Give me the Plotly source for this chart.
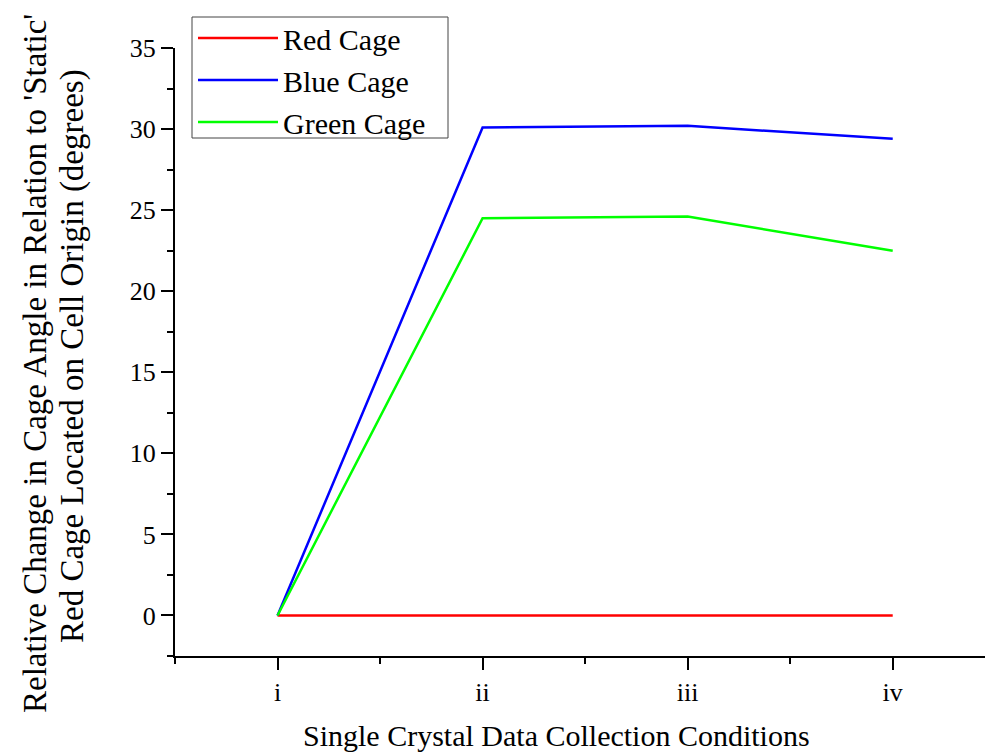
import plotly.graph_objects as go

# Data collection conditions and relative cage angle changes (degrees)
conditions = ["i", "ii", "iii", "iv"]
red_cage = [0.0, 0.0, 0.0, 0.0]
blue_cage = [0.0, 30.1, 30.2, 29.4]
green_cage = [0.0, 24.5, 24.6, 22.5]

series = [
    ("Red Cage", red_cage, "#ff0000"),
    ("Blue Cage", blue_cage, "#0000ff"),
    ("Green Cage", green_cage, "#00ff00"),
]

y_title_lines = [
    "Relative Change in Cage Angle in Relation to 'Static'",
    "Red Cage Located on Cell Origin (degrees)",
]
x_title = "Single Crystal Data Collection Conditions"

FONT = "Liberation Serif, Times New Roman, serif"
W, H = 985, 754
ML, MR, MT, MB = 175, 0, 48, 98
PW, PH = W - ML - MR, H - MT - MB


def px_x(p):
    return (p - ML) / PW


def px_y(p):
    return (H - MB - p) / PH


fig = go.Figure()
xs = list(range(len(conditions)))
for name, vals, color in series:
    fig.add_trace(go.Scatter(
        x=xs, y=vals, mode="lines", name=name,
        line=dict(color=color, width=2.5),
    ))

# Two-line y-axis title, each line placed separately
for xpix, ypix, text in [(35, 364, y_title_lines[0]), (72, 356, y_title_lines[1])]:
    fig.add_annotation(
        x=px_x(xpix), y=px_y(ypix), xref="paper", yref="paper",
        text=text, textangle=-90, showarrow=False,
        xanchor="center", yanchor="middle",
        font=dict(size=33, family=FONT, color="black"),
    )

fig.add_annotation(
    x=px_x(556), y=px_y(735), xref="paper", yref="paper",
    text=x_title, showarrow=False, xanchor="center", yanchor="middle",
    font=dict(size=30, family=FONT, color="black"),
)

# Legend frame
fig.add_shape(
    type="rect", xref="paper", yref="paper",
    x0=px_x(192), x1=px_x(448), y0=px_y(138), y1=px_y(17),
    line=dict(color="#444", width=1), fillcolor="white", layer="below",
)

fig.update_layout(
    width=W, height=H,
    margin=dict(l=ML, r=MR, t=MT, b=MB),
    paper_bgcolor="white", plot_bgcolor="rgba(0,0,0,0)",
    font=dict(family=FONT, color="black"),
    showlegend=True,
    legend=dict(
        x=px_x(193), y=px_y(12), xanchor="left", yanchor="top",
        borderwidth=0, bgcolor="rgba(0,0,0,0)",
        font=dict(size=30, family=FONT),
        itemwidth=80, tracegroupgap=0,
    ),
    xaxis=dict(
        range=[-0.5, 3.45],
        tickmode="array", tickvals=xs, ticktext=conditions,
        showgrid=False, zeroline=False,
        showline=True, linecolor="black", linewidth=2,
        ticks="outside", ticklen=12, tickwidth=2, tickcolor="black",
        minor=dict(ticks="outside", ticklen=6, tickwidth=2, tickcolor="black",
                   tickvals=[-0.5, 0.5, 1.5, 2.5]),
        tickfont=dict(size=26, family=FONT),
    ),
    yaxis=dict(
        range=[-2.5, 35],
        tickmode="linear", tick0=0, dtick=5,
        showgrid=False, zeroline=False,
        showline=True, linecolor="black", linewidth=2,
        ticks="outside", ticklen=12, tickwidth=2, tickcolor="black",
        minor=dict(ticks="outside", ticklen=6, tickwidth=2, tickcolor="black",
                   dtick=2.5, tick0=0),
        tickfont=dict(size=26, family=FONT),
    ),
)

fig.write_html("out.html")
